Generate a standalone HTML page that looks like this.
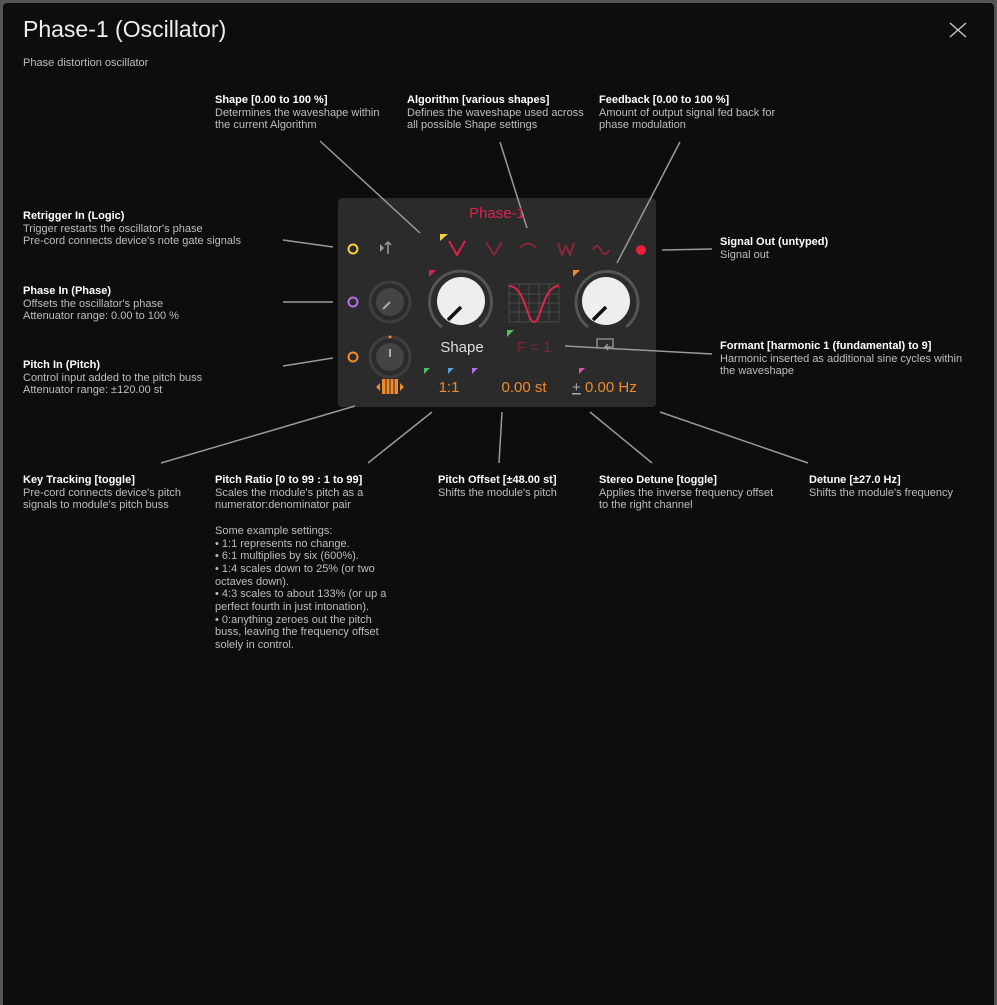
<!DOCTYPE html>
<html><head><meta charset="utf-8"><style>
body{margin:0;width:997px;height:1005px;background:#555;overflow:hidden;font-family:"Liberation Sans",sans-serif}
#f{position:absolute;left:3px;top:3px;width:991px;height:1002px;background:#0d0d0d;border-radius:4px 4px 0 0}
.t{position:absolute;font-size:11px;line-height:12.7px;color:#bdbdbd;white-space:nowrap}
.t b{color:#fff;font-weight:bold}
h1{position:absolute;left:23px;top:16px;margin:0;font-weight:300;font-size:23px;color:#eee}
</style></head><body><div id="f"></div>
<h1>Phase-1 (Oscillator)</h1>
<div class="t" style="left:23px;top:57px">Phase distortion oscillator</div>
<svg style="position:absolute;left:0;top:0" width="997" height="1005">
<g stroke="#ccc" stroke-width="1.3" fill="none">
<path d="M950 23L966 37M966 23L950 37"/>
</g>
<rect x="338" y="198" width="318" height="209" rx="4" fill="#2b2b2b"/>
<g stroke="#999" stroke-width="1.5">
<line x1="320" y1="141" x2="420" y2="233"/><line x1="500" y1="142" x2="527" y2="228"/>
<line x1="680" y1="142" x2="617" y2="263"/><line x1="283" y1="240" x2="333" y2="247"/>
<line x1="283" y1="302" x2="333" y2="302"/><line x1="283" y1="366" x2="333" y2="358"/>
<line x1="662" y1="250" x2="712" y2="249"/><line x1="565" y1="346" x2="712" y2="354"/>
<line x1="161" y1="463" x2="355" y2="406"/><line x1="368" y1="463" x2="432" y2="412"/>
<line x1="499" y1="463" x2="502" y2="412"/><line x1="652" y1="463" x2="590" y2="412"/>
<line x1="808" y1="463" x2="660" y2="412"/>
</g>
<text x="497" y="218" fill="#e0234a" font-size="15" text-anchor="middle" font-family="Liberation Sans">Phase-1</text>
<circle cx="353" cy="249" r="4.5" fill="none" stroke="#f2d23c" stroke-width="2"/>
<circle cx="353" cy="302" r="4.5" fill="none" stroke="#b070e8" stroke-width="2"/>
<circle cx="353" cy="357" r="4.5" fill="none" stroke="#f08a2a" stroke-width="2"/>
<path d="M380 244l4 4-4 4z" fill="#999"/><path d="M388 254v-12M385 245l3-3 3 3" stroke="#999" stroke-width="1.5" fill="none"/>
<g stroke="#e0234a" stroke-width="2" fill="none"><path d="M449 241l8 14 8-14"/></g>
<g stroke="#8a2636" stroke-width="2" fill="none"><path d="M486 242l8 13 8-13"/><path d="M520 248q8-9 16 0"/><path d="M558 243l4 12 4-9 4 9 4-12"/><path d="M593 250q4-8 8 0t8 0"/></g>
<path d="M440 234h8l-8 7z" fill="#f2d23c"/>
<circle cx="641" cy="250" r="5" fill="#ee1d3c"/>
<circle cx="390" cy="302" r="20" fill="none" stroke="#3e3e3e" stroke-width="3"/>
<circle cx="390" cy="302" r="14" fill="#444"/><line x1="390" y1="302" x2="383" y2="309" stroke="#aaa" stroke-width="2"/>
<circle cx="390" cy="357" r="20" fill="none" stroke="#3e3e3e" stroke-width="3"/>
<circle cx="390" cy="357" r="14" fill="#444"/><line x1="390" y1="357" x2="390" y2="349" stroke="#aaa" stroke-width="2"/>
<circle cx="390" cy="337" r="1.5" fill="#f08a2a"/>
<path d="M442 327A31 31 0 1 1 479 327" fill="none" stroke="#555" stroke-width="3"/>
<circle cx="461" cy="301" r="24" fill="#eee"/><line x1="461" y1="307" x2="448" y2="320" stroke="#111" stroke-width="3.5"/>
<path d="M429 270h7l-7 7z" fill="#e0234a"/>
<path d="M588 327A31 31 0 1 1 626 327" fill="none" stroke="#555" stroke-width="3"/>
<circle cx="606" cy="301" r="24" fill="#eee"/><line x1="606" y1="307" x2="593" y2="320" stroke="#111" stroke-width="3.5"/>
<path d="M573 270h7l-7 7z" fill="#f08a2a"/>
<g stroke="#555" stroke-width=".7"><rect x="509" y="284" width="50" height="38" fill="none"/><path d="M509 294h50M509 303h50M509 312h50M519 284v38M529 284v38M539 284v38M549 284v38"/></g>
<path d="M509 286C525 286 527 322 534 322S543 286 559 286" fill="none" stroke="#e0234a" stroke-width="2"/>
<text x="462" y="352" fill="#ddd" font-size="15" text-anchor="middle">Shape</text>
<path d="M507 330h7l-7 7z" fill="#4cc060"/>
<text x="534" y="352" fill="#7a2533" font-size="15" text-anchor="middle">F = 1</text>
<path d="M597 347v-8h16v8h-8M608 344l-3 3 3 3" fill="none" stroke="#999" stroke-width="1.3"/>
<path d="M424 368h6l-6 6z" fill="#4cc060"/>
<path d="M448 368h6l-6 6z" fill="#4aa0e0"/><path d="M472 368h6l-6 6z" fill="#b070e8"/><path d="M579 368h6l-6 6z" fill="#e050b0"/>
<g fill="#f08a2a"><path d="M376 387l4-4v8zM404 387l-4-4v8z"/><rect x="382" y="379" width="16" height="15"/></g>
<g stroke="#2b2b2b" stroke-width="1"><path d="M386 379v15M390 379v15M394 379v15"/></g>
<g fill="#f08a2a" font-size="15"><text x="449" y="392" text-anchor="middle">1:1</text><text x="524" y="392" text-anchor="middle">0.00 st</text><text x="585" y="392">0.00 Hz</text></g>
<text x="572" y="392" fill="#aaa" font-size="15" text-decoration="underline">+</text>
</svg>
<div class="t" style="left:215px;top:94px"><b>Shape [0.00 to 100 %]</b><br>Determines the waveshape within<br>the current Algorithm</div>
<div class="t" style="left:407px;top:94px"><b>Algorithm [various shapes]</b><br>Defines the waveshape used across<br>all possible Shape settings</div>
<div class="t" style="left:599px;top:94px"><b>Feedback [0.00 to 100 %]</b><br>Amount of output signal fed back for<br>phase modulation</div>
<div class="t" style="left:23px;top:210px"><b>Retrigger In (Logic)</b><br>Trigger restarts the oscillator's phase<br>Pre-cord connects device's note gate signals</div>
<div class="t" style="left:23px;top:285px"><b>Phase In (Phase)</b><br>Offsets the oscillator's phase<br>Attenuator range: 0.00 to 100 %</div>
<div class="t" style="left:23px;top:359px"><b>Pitch In (Pitch)</b><br>Control input added to the pitch buss<br>Attenuator range: ±120.00 st</div>
<div class="t" style="left:720px;top:236px"><b>Signal Out (untyped)</b><br>Signal out</div>
<div class="t" style="left:720px;top:340px"><b>Formant [harmonic 1 (fundamental) to 9]</b><br>Harmonic inserted as additional sine cycles within<br>the waveshape</div>
<div class="t" style="left:23px;top:474px"><b>Key Tracking [toggle]</b><br>Pre-cord connects device's pitch<br>signals to module's pitch buss</div>
<div class="t" style="left:215px;top:474px"><b>Pitch Ratio [0 to 99 : 1 to 99]</b><br>Scales the module's pitch as a<br>numerator:denominator pair<br><br>Some example settings:<br>• 1:1 represents no change.<br>• 6:1 multiplies by six (600%).<br>• 1:4 scales down to 25% (or two<br>octaves down).<br>• 4:3 scales to about 133% (or up a<br>perfect fourth in just intonation).<br>• 0:anything zeroes out the pitch<br>buss, leaving the frequency offset<br>solely in control.</div>
<div class="t" style="left:438px;top:474px"><b>Pitch Offset [±48.00 st]</b><br>Shifts the module's pitch</div>
<div class="t" style="left:599px;top:474px"><b>Stereo Detune [toggle]</b><br>Applies the inverse frequency offset<br>to the right channel</div>
<div class="t" style="left:809px;top:474px"><b>Detune [±27.0 Hz]</b><br>Shifts the module's frequency</div>
</body></html>
